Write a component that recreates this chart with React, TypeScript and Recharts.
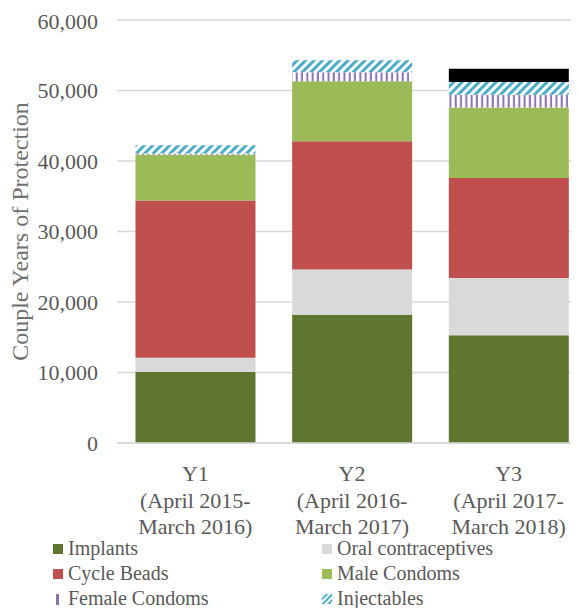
import { BarChart, Bar, XAxis, YAxis, CartesianGrid, Label } from "recharts";

const categories = ["Y1", "Y2", "Y3"];
const tickLines = [
  ["Y1", "(April 2015-", "March 2016)"],
  ["Y2", "(April 2016-", "March 2017)"],
  ["Y3", "(April 2017-", "March 2018)"],
];
const yTicks = [0, 10000, 20000, 30000, 40000, 50000, 60000];

const implants = [10100, 18200, 15300];
const oralContraceptives = [2000, 6400, 8100];
const cycleBeads = [22300, 18200, 14200];
const maleCondoms = [6500, 8500, 10000];
const femaleCondoms = [150, 1300, 1800];
const injectables = [1200, 1700, 1800];
const otherMethods = [0, 0, 1900];

const data = categories.map((c, i) => ({
  name: c,
  implants: implants[i],
  oral: oralContraceptives[i],
  beads: cycleBeads[i],
  male: maleCondoms[i],
  female: femaleCondoms[i],
  inject: injectables[i],
  other: otherMethods[i],
}));

const FONT = '"Liberation Serif", "Times New Roman", serif';
const TEXT = "#595959";

// the black series' legend entry falls below the visible area in the reference
const legendItems = [
  { label: "Implants", fill: "#5f7530", kind: "box" },
  { label: "Oral contraceptives", fill: "#d9d9d9", kind: "box" },
  { label: "Cycle Beads", fill: "#c0504d", kind: "box" },
  { label: "Male Condoms", fill: "#9bbb59", kind: "box" },
  { label: "Female Condoms", fill: "#8c72b0", kind: "line" },
  { label: "Injectables", fill: "#4bacc6", kind: "hatch" },
];

function XTick(props: any) {
  const { x, y, payload } = props;
  const lines = tickLines[categories.indexOf(payload.value)] || [payload.value];
  return (
    <text x={x} y={y} textAnchor="middle" fill={TEXT} fontSize={22} fontFamily={FONT}>
      {lines.map((l, i) => (
        <tspan key={i} x={x} dy={i === 0 ? 36 : 26.5}>
          {l}
        </tspan>
      ))}
    </text>
  );
}

function YTitle(props: any) {
  const { viewBox } = props;
  const cy = viewBox.y + viewBox.height / 2;
  const cx = 12;
  return (
    <text
      x={cx}
      y={cy}
      transform={`rotate(-90 ${cx} ${cy})`}
      textAnchor="middle"
      dominantBaseline="central"
      fill="#707070"
      fontSize={24}
      fontFamily={FONT}
    >
      Couple Years of Protection
    </text>
  );
}

function Marker({ item }: { item: any }) {
  if (item.kind === "line") {
    return (
      <svg width={12} height={12} style={{ marginRight: 4 }}>
        <rect x={4} y={1} width={3} height={11} fill={item.fill} />
      </svg>
    );
  }
  if (item.kind === "hatch") {
    return (
      <svg width={12} height={12} style={{ marginRight: 4 }}>
        <defs>
          <pattern id="hatchLegend" width={4} height={4} patternUnits="userSpaceOnUse" patternTransform="rotate(45)">
            <rect width={4} height={4} fill="#fff" />
            <rect width={2} height={4} fill={item.fill} />
          </pattern>
        </defs>
        <rect x={1} y={1} width={10} height={10} fill="url(#hatchLegend)" />
      </svg>
    );
  }
  return (
    <svg width={12} height={12} style={{ marginRight: 4 }}>
      <rect x={1} y={1} width={10} height={10} fill={item.fill} />
    </svg>
  );
}

export default function App() {
  return (
    <div style={{ position: "relative", width: 571, height: 600, overflow: "hidden", background: "#fff" }}>
      <BarChart
        width={600}
        height={530}
        data={data}
        barCategoryGap="11.8%"
        margin={{ top: 12, right: 21, left: 0, bottom: 0 }}
      >
        <defs>
          <pattern id="femalePat" width={5.3} height={10} patternUnits="userSpaceOnUse">
            <rect width={5.3} height={10} fill="#fff" />
            <rect x={1.5} width={2} height={10} fill="#8c72b0" />
          </pattern>
          <pattern id="injectPat" width={6} height={6} patternUnits="userSpaceOnUse" patternTransform="rotate(45)">
            <rect width={6} height={6} fill="#fff" />
            <rect width={3} height={6} fill="#4bacc6" />
          </pattern>
        </defs>
        <CartesianGrid vertical={false} stroke="#d9d9d9" strokeWidth={1.5} />
        <XAxis
          dataKey="name"
          tick={<XTick />}
          tickLine={false}
          tickSize={0}
          height={95}
          stroke="#d9d9d9"
          strokeWidth={1.5}
          interval={0}
        />
        <YAxis
          domain={[0, 60000]}
          ticks={yTicks}
          width={109}
          axisLine={false}
          tickLine={false}
          tickSize={0}
          tickMargin={19}
          tickFormatter={(v: number) => v.toLocaleString("en-US")}
          tick={{ fill: TEXT, fontSize: 22, fontFamily: FONT }}
        >
          <Label content={<YTitle />} />
        </YAxis>
        <Bar dataKey="implants" name="Implants" stackId="a" fill="#5f7530" isAnimationActive={false} />
        <Bar dataKey="oral" name="Oral contraceptives" stackId="a" fill="#d9d9d9" isAnimationActive={false} />
        <Bar dataKey="beads" name="Cycle Beads" stackId="a" fill="#c0504d" isAnimationActive={false} />
        <Bar dataKey="male" name="Male Condoms" stackId="a" fill="#9bbb59" isAnimationActive={false} />
        <Bar dataKey="female" name="Female Condoms" stackId="a" fill="url(#femalePat)" isAnimationActive={false} />
        <Bar dataKey="inject" name="Injectables" stackId="a" fill="url(#injectPat)" isAnimationActive={false} />
        <Bar dataKey="other" name="Other" stackId="a" fill="#000000" isAnimationActive={false} />
      </BarChart>
      <div
        style={{
          position: "absolute",
          left: 44,
          top: 528,
          width: 520,
          display: "grid",
          gridTemplateColumns: "269px 251px",
          rowGap: 0,
          fontFamily: FONT,
          fontSize: 20,
          color: TEXT,
        }}
      >
        {legendItems.map((item) => (
          <div key={item.label} style={{ display: "flex", alignItems: "center", height: 25, lineHeight: "25px" }}>
            <Marker item={item} />
            <span>{item.label}</span>
          </div>
        ))}
      </div>
    </div>
  );
}
